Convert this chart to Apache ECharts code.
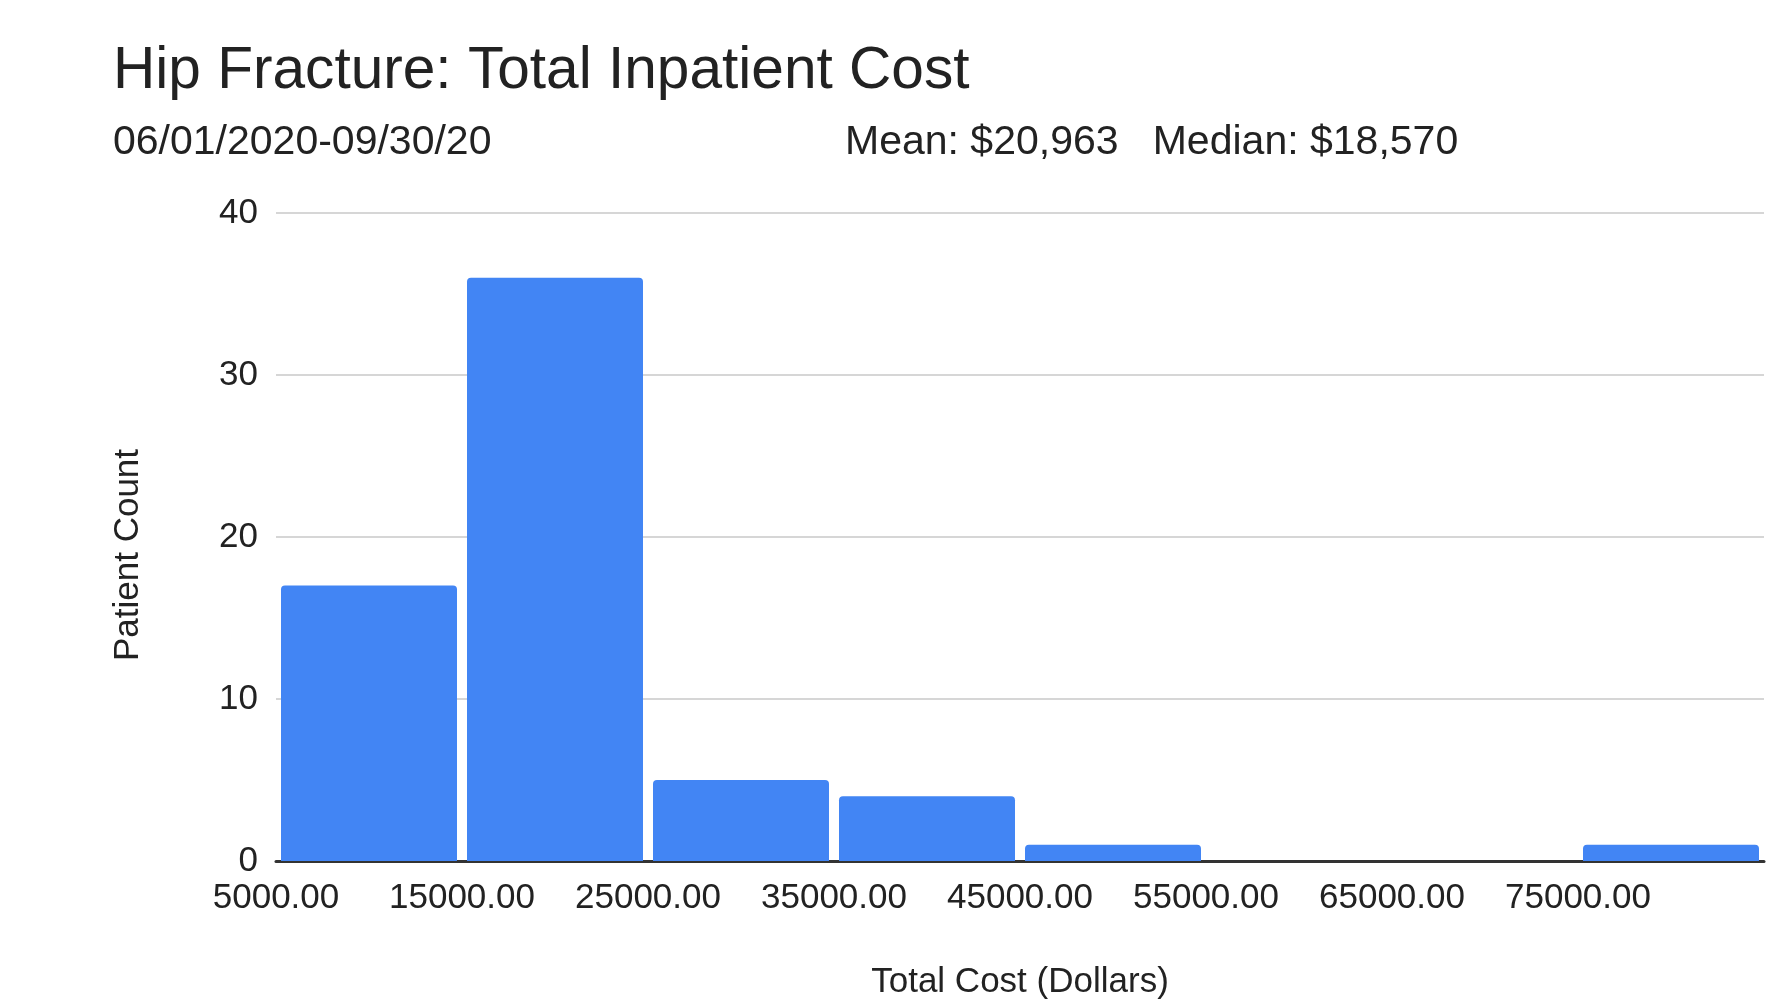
<!DOCTYPE html>
<html>
<head>
<meta charset="utf-8">
<script src="https://cdn.jsdelivr.net/npm/echarts@6/dist/echarts.min.js"></script>
<style>
  html, body { margin: 0; padding: 0; background: #fff; }
  #chart { width: 1776px; height: 999px; }
</style>
</head>
<body>
<div id="chart"></div>
<script>
// Histogram bins (lower edge of each $10,000 bin) and patient counts
const binStarts = [5000, 15000, 25000, 35000, 45000, 55000, 65000, 75000];
const binWidth = 10000;
const patientCounts = [17, 36, 5, 4, 1, 0, 0, 1];
const yTicks = [0, 10, 20, 30, 40];

const titleText = 'Hip Fracture: Total Inpatient Cost';
const dateRange = '06/01/2020-09/30/20';
const statsText = 'Mean: $20,963   Median: $18,570';

const FONT = '"Liberation Sans", Arial, Helvetica, sans-serif';
const BAR_COLOR = '#4285F4';

const chart = echarts.init(document.getElementById('chart'), null, { renderer: 'canvas' });

const binData = binStarts.map((s, i) => [s, s + binWidth, patientCounts[i]]);

chart.setOption({
  backgroundColor: '#ffffff',
  animation: false,
  title: [
    {
      text: titleText,
      left: 108,
      top: 37,
      textStyle: { fontFamily: FONT, fontSize: 58.6, fontWeight: 'normal', color: '#222' }
    },
    {
      text: dateRange,
      left: 108,
      top: 117,
      textStyle: { fontFamily: FONT, fontSize: 41, fontWeight: 'normal', color: '#222' }
    },
    {
      text: statsText,
      left: 840,
      top: 117,
      textStyle: { fontFamily: FONT, fontSize: 41, fontWeight: 'normal', color: '#222' }
    }
  ],
  graphic: [
    {
      type: 'text',
      x: 128,
      y: 555,
      rotation: Math.PI / 2,
      style: {
        text: 'Patient Count',
        font: '35px ' + FONT,
        fill: '#222',
        align: 'center',
        verticalAlign: 'middle'
      }
    }
  ],
  grid: { left: 276, right: 12, top: 213, bottom: 138, containLabel: false, outerBoundsMode: 'none' },
  xAxis: {
    type: 'value',
    min: 5000,
    max: 85000,
    interval: 10000,
    name: 'Total Cost (Dollars)',
    nameLocation: 'middle',
    nameGap: 104,
    nameTextStyle: { fontFamily: FONT, fontSize: 35, color: '#222' },
    axisLine: { show: true, onZero: false, lineStyle: { color: '#333', width: 3 } },
    axisTick: { show: false },
    splitLine: { show: false },
    axisLabel: {
      showMaxLabel: false,
      margin: 20,
      fontFamily: FONT,
      fontSize: 35,
      color: '#222',
      formatter: v => v.toFixed(2)
    }
  },
  yAxis: {
    type: 'value',
    min: yTicks[0],
    max: yTicks[yTicks.length - 1],
    interval: 10,
    axisLine: { show: false },
    axisTick: { show: false },
    splitLine: { show: true, lineStyle: { color: '#d6d6d6', width: 2 } },
    axisLabel: {
      margin: 18,
      fontFamily: FONT,
      fontSize: 35,
      color: '#222'
    }
  },
  series: [
    {
      type: 'custom',
      data: binData,
      encode: { x: [0, 1], y: 2 },
      z: 1,
      renderItem: function (params, api) {
        const v = api.value(2);
        if (!v) return null;
        const p0 = api.coord([api.value(0), v]);
        const p1 = api.coord([api.value(1), 0]);
        const gap = 5;
        return {
          type: 'rect',
          shape: {
            x: p0[0] + gap,
            y: p0[1],
            width: p1[0] - p0[0] - gap * 2,
            height: p1[1] - p0[1],
            r: [4, 4, 0, 0]
          },
          style: { fill: BAR_COLOR }
        };
      }
    }
  ]
});
</script>
</body>
</html>
